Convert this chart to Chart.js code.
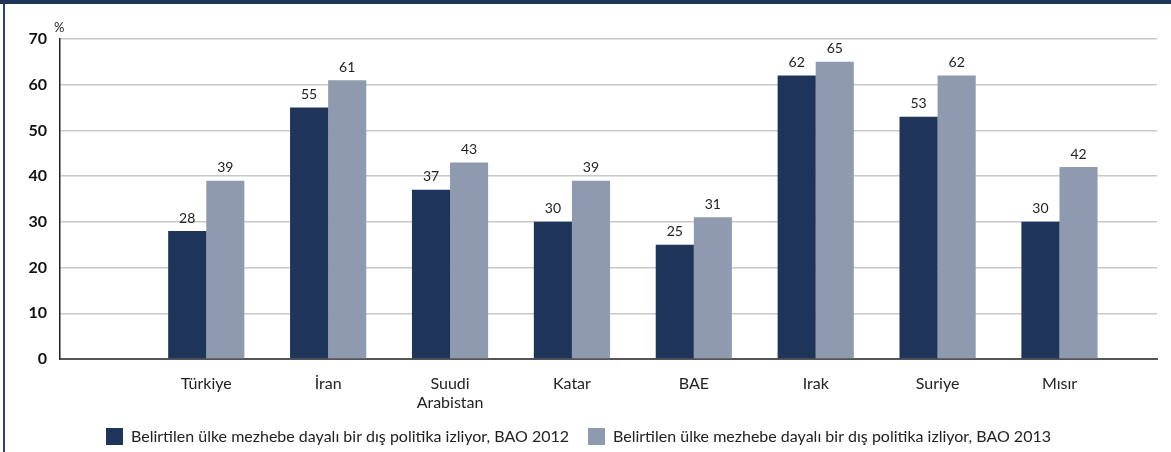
<!DOCTYPE html>
<html>
<head>
<meta charset="utf-8">
<script src="https://cdn.jsdelivr.net/npm/chart.js@4/dist/chart.umd.min.js"></script>
<style>
    html, body { margin: 0; padding: 0; background: #fff; }
    #wrap { position: relative; width: 1171px; height: 452px; overflow: hidden; }
    #topband { position: absolute; left: 0; top: 0; width: 1171px; height: 4px; background: #1e3459; }
    #leftline { position: absolute; left: 3px; top: 4px; width: 2px; height: 448px; background: #2a4470; }
    canvas { position: absolute; left: 0; top: 0; }
</style>
</head>
<body>
<div id="wrap">
    <canvas id="chart" width="1171" height="452"></canvas>
    <div id="topband"></div>
    <div id="leftline"></div>
</div>
<script>
// Chart data
const categories = ['Türkiye', 'İran', ['Suudi', 'Arabistan'], 'Katar', 'BAE', 'Irak', 'Suriye', 'Mısır'];
const values2012 = [28, 55, 37, 30, 25, 62, 53, 30];
const values2013 = [39, 61, 43, 39, 31, 65, 62, 42];
const yTicks = [0, 10, 20, 30, 40, 50, 60, 70];
const seriesNames = [
    'Belirtilen ülke mezhebe dayalı bir dış politika izliyor, BAO 2012',
    'Belirtilen ülke mezhebe dayalı bir dış politika izliyor, BAO 2013'
];

const NAVY = '#1e3459';
const GREY = '#8e9aae';
const FONT = 'Lato, "Open Sans", sans-serif';

// draws the value above each bar and the % sign above the y axis
const valueLabels = {
    id: 'valueLabels',
    afterDatasetsDraw(chart) {
        const ctx = chart.ctx;
        ctx.save();
        ctx.fillStyle = '#222';
        ctx.font = '14px ' + FONT;
        ctx.textAlign = 'center';
        ctx.textBaseline = 'bottom';
        chart.data.datasets.forEach((ds, i) => {
            chart.getDatasetMeta(i).data.forEach((bar, j) => {
                ctx.fillText(ds.data[j].y, bar.x, bar.y - 6);
            });
        });
        ctx.textAlign = 'left';
        ctx.font = '13px ' + FONT;
        ctx.fillText('%', chart.chartArea.left - 6, chart.chartArea.top - 5);
        ctx.restore();
    }
};

function toPoints(values) {
    return values.map((v, i) => ({ x: i, y: v }));
}

new Chart(document.getElementById('chart').getContext('2d'), {
    type: 'bar',
    data: {
        datasets: [
            { label: seriesNames[0], data: toPoints(values2012), backgroundColor: NAVY },
            { label: seriesNames[1], data: toPoints(values2013), backgroundColor: GREY }
        ]
    },
    options: {
        responsive: false,
        animation: false,
        layout: { padding: { left: 0, right: 14, top: 39, bottom: 0 } },
        datasets: { bar: { categoryPercentage: 0.625, barPercentage: 1 } },
        plugins: {
            legend: {
                position: 'bottom',
                maxHeight: 43,
                labels: { boxWidth: 17, boxHeight: 17, padding: 19, color: '#222', font: { family: FONT, size: 16 } }
            },
            tooltip: { enabled: false }
        },
        scales: {
            x: {
                type: 'linear',
                offset: false,
                min: -1.2,
                max: 7.8,
                afterBuildTicks: scale => { scale.ticks = categories.map((c, i) => ({ value: i })); },
                afterFit: scale => { scale.height = 50; scale.paddingLeft = 0; scale.paddingRight = 0; },
                grid: { display: false },
                border: { display: true, color: '#555', width: 2 },
                ticks: {
                    autoSkip: false,
                    maxRotation: 0,
                    padding: 7,
                    color: '#222',
                    font: { family: FONT, size: 16 },
                    callback: v => categories[v]
                }
            },
            y: {
                min: 0,
                max: 70,
                afterBuildTicks: scale => { scale.ticks = yTicks.map(v => ({ value: v })); },
                afterFit: scale => { scale.width = 60; },
                grid: { color: '#c8c8c8', lineWidth: 1.5, tickLength: 0 },
                border: { display: true, color: '#222', width: 1.5 },
                ticks: { padding: 13, color: '#111', font: { family: FONT, size: 16, weight: 'bold' } }
            }
        }
    },
    plugins: [valueLabels]
});
</script>
</body>
</html>
